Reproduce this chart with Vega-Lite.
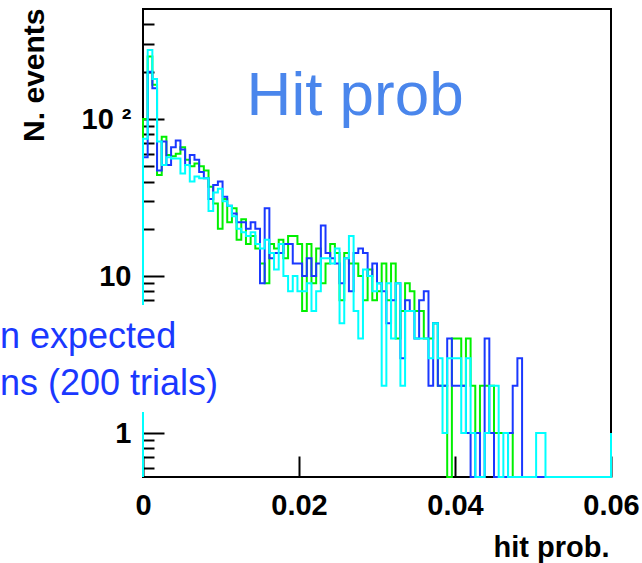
{
  "$schema": "https://vega.github.io/schema/vega-lite/v6.json",
  "autosize": {"type": "none"},
  "padding": {"left": 143, "top": 9, "right": 31, "bottom": 86},
  "width": 468,
  "height": 468,
  "background": "white",
  "config": {
    "view": {"stroke": "black", "strokeWidth": 2},
    "axis": {
      "grid": false, "domain": false, "tickColor": "black", "tickWidth": 2,
      "labelColor": "black", "labelFont": "Liberation Sans", "labelFontWeight": "bold", "labelFontSize": 29,
      "titleFont": "Liberation Sans", "titleFontWeight": "bold", "titleFontSize": 29, "titleColor": "black",
      "labelOverlap": false, "labelBound": false
    }
  },
  "datasets": {
    "h": [
      {"x":0,"G":0,"B":0,"C":0},
      {"x":0,"G":100,"B":57,"C":75},
      {"x":0.0006,"G":250,"B":200,"C":275},
      {"x":0.0012,"G":165,"B":157,"C":180},
      {"x":0.0018,"G":44,"B":47,"C":72},
      {"x":0.0024,"G":77,"B":72,"C":51},
      {"x":0.003,"G":59,"B":51,"C":57},
      {"x":0.0036,"G":58,"B":66,"C":56},
      {"x":0.0042,"G":60,"B":73,"C":56},
      {"x":0.0048,"G":66,"B":64,"C":45},
      {"x":0.0054,"G":55,"B":51,"C":51},
      {"x":0.006,"G":50,"B":59,"C":40},
      {"x":0.0066,"G":52,"B":55,"C":43},
      {"x":0.0072,"G":50,"B":46,"C":42},
      {"x":0.0078,"G":47,"B":42,"C":42},
      {"x":0.0084,"G":37,"B":31,"C":26},
      {"x":0.009,"G":29,"B":38,"C":34},
      {"x":0.0096,"G":20,"B":40,"C":36},
      {"x":0.0102,"G":31,"B":32,"C":30},
      {"x":0.0108,"G":22,"B":28,"C":28},
      {"x":0.0114,"G":27,"B":25,"C":24},
      {"x":0.012,"G":17,"B":22,"C":20},
      {"x":0.0126,"G":23,"B":22,"C":19},
      {"x":0.0132,"G":16,"B":20,"C":18},
      {"x":0.0138,"G":18,"B":22,"C":19},
      {"x":0.0144,"G":15,"B":20,"C":16},
      {"x":0.015,"G":12,"B":9,"C":15},
      {"x":0.0156,"G":9,"B":27,"C":17},
      {"x":0.0162,"G":16,"B":13,"C":14},
      {"x":0.0168,"G":15,"B":14,"C":11},
      {"x":0.0174,"G":17,"B":14,"C":16},
      {"x":0.018,"G":13,"B":16,"C":10},
      {"x":0.0186,"G":18,"B":16,"C":8},
      {"x":0.0192,"G":18,"B":12,"C":10},
      {"x":0.0198,"G":16,"B":12,"C":8},
      {"x":0.0204,"G":6,"B":10,"C":8},
      {"x":0.021,"G":16,"B":13,"C":9},
      {"x":0.0216,"G":9,"B":10,"C":6},
      {"x":0.0222,"G":15,"B":12,"C":8},
      {"x":0.0228,"G":9,"B":21,"C":13},
      {"x":0.0234,"G":12,"B":14,"C":13},
      {"x":0.024,"G":16,"B":13,"C":12},
      {"x":0.0246,"G":14,"B":12,"C":15},
      {"x":0.0252,"G":7,"B":9,"C":5},
      {"x":0.0258,"G":14,"B":13,"C":13},
      {"x":0.0264,"G":12,"B":8,"C":18},
      {"x":0.027,"G":12,"B":14,"C":6},
      {"x":0.0276,"G":10,"B":15,"C":4},
      {"x":0.0282,"G":7,"B":14,"C":11},
      {"x":0.0288,"G":11,"B":10,"C":10},
      {"x":0.0294,"G":7,"B":12,"C":8},
      {"x":0.03,"G":8,"B":9,"C":9},
      {"x":0.0306,"G":12,"B":8,"C":2},
      {"x":0.0312,"G":7,"B":5,"C":9},
      {"x":0.0318,"G":12,"B":7,"C":4},
      {"x":0.0324,"G":4,"B":9,"C":9},
      {"x":0.033,"G":6,"B":3,"C":2},
      {"x":0.0336,"G":9,"B":7,"C":6},
      {"x":0.0342,"G":8,"B":6,"C":6},
      {"x":0.0348,"G":6,"B":4,"C":4},
      {"x":0.0354,"G":6,"B":7,"C":4},
      {"x":0.036,"G":4,"B":8,"C":4},
      {"x":0.0366,"G":4,"B":2,"C":3},
      {"x":0.0372,"G":5,"B":5,"C":5},
      {"x":0.0378,"G":2,"B":2,"C":3},
      {"x":0.0384,"G":2,"B":2,"C":1},
      {"x":0.039,"G":0,"B":4,"C":3},
      {"x":0.0396,"G":4,"B":2,"C":3},
      {"x":0.0402,"G":4,"B":2,"C":3},
      {"x":0.0408,"G":2,"B":2,"C":1},
      {"x":0.0414,"G":4,"B":1,"C":3},
      {"x":0.042,"G":2,"B":0,"C":1},
      {"x":0.0426,"G":1,"B":1,"C":0},
      {"x":0.0432,"G":2,"B":0,"C":0},
      {"x":0.0438,"G":2,"B":4,"C":1},
      {"x":0.0444,"G":2,"B":1,"C":2},
      {"x":0.045,"G":1,"B":0,"C":2},
      {"x":0.0456,"G":1,"B":0,"C":0},
      {"x":0.0462,"G":1,"B":0,"C":1},
      {"x":0.0468,"G":1,"B":1,"C":0},
      {"x":0.0474,"G":0,"B":2,"C":0},
      {"x":0.048,"G":0,"B":3,"C":0},
      {"x":0.0486,"G":0,"B":0,"C":0},
      {"x":0.0492,"G":0,"B":0,"C":0},
      {"x":0.0498,"G":0,"B":0,"C":0},
      {"x":0.0504,"G":0,"B":0,"C":1},
      {"x":0.051,"G":0,"B":0,"C":1},
      {"x":0.0516,"G":0,"B":0,"C":0},
      {"x":0.0522,"G":0,"B":0,"C":0},
      {"x":0.0528,"G":0,"B":0,"C":0},
      {"x":0.0534,"G":0,"B":0,"C":0},
      {"x":0.054,"G":0,"B":0,"C":0},
      {"x":0.0546,"G":0,"B":0,"C":0},
      {"x":0.0552,"G":0,"B":0,"C":0},
      {"x":0.0558,"G":0,"B":0,"C":0},
      {"x":0.0564,"G":0,"B":0,"C":0},
      {"x":0.057,"G":0,"B":0,"C":0},
      {"x":0.0576,"G":0,"B":0,"C":0},
      {"x":0.0582,"G":0,"B":0,"C":0},
      {"x":0.0588,"G":0,"B":0,"C":0},
      {"x":0.0594,"G":0,"B":0,"C":0},
      {"x":0.06,"G":0,"B":0,"C":1},
      {"x":0.06,"G":0,"B":0,"C":0}
    ],
    "note": [{"t": "Hit prob"}],
    "leg": [{"t": "n expected", "k": 1}, {"t": "ns (200 trials)", "k": 2}]
  },
  "resolve": {"axis": {"y": "independent"}},
  "layer": [
    {
      "data": {"name": "h"},
      "transform": [{"fold": ["G", "B", "C"], "as": ["s", "n"]}],
      "mark": {"type": "line", "interpolate": "step-after", "strokeWidth": 2},
      "encoding": {
        "x": {
          "field": "x", "type": "quantitative",
          "scale": {"domain": [0, 0.06], "nice": false},
          "axis": {
            "values": [0, 0.02, 0.04, 0.06],
            "labelExpr": "datum.value == 0 ? '0' : format(datum.value, '.2f')",
            "tickSize": -21, "labelPadding": 35, "labelFlush": false,
            "title": "hit prob.", "titleAnchor": "end", "titleAlign": "right",
            "titleBaseline": "alphabetic", "titleX": 466, "titleY": 79
          }
        },
        "y": {
          "field": "n", "type": "quantitative",
          "scale": {"type": "log", "domain": [0.525, 502], "nice": false, "clamp": true},
          "axis": {
            "orient": "left",
            "values": [1, 10, 100],
            "labelExpr": "datum.value == 100 ? '10 \u00b2' : (datum.value == 10 ? '10\u00a0\u00a0' : '1')",
            "tickSize": -21, "labelPadding": 33,
            "title": "N. events", "titleAngle": 270, "titleAlign": "right",
            "titleBaseline": "alphabetic", "titleX": -100, "titleY": -1, "titleFontSize": 30
          }
        },
        "color": {
          "field": "s", "type": "nominal",
          "scale": {"domain": ["G", "B", "C"], "range": ["#00f000", "#1a38ff", "#00ffff"]},
          "legend": null
        },
        "order": {"value": null}
      }
    },
    {
      "data": {"name": "note"},
      "mark": {"type": "rect", "fill": "white", "stroke": null},
      "encoding": {
        "x": {"datum": -0.02, "type": "quantitative"},
        "x2": {"datum": 0.0095},
        "y": {
          "datum": 6.54, "type": "quantitative",
          "axis": {
            "orient": "left",
            "values": [0.6, 0.7, 0.8, 0.9, 2, 3, 4, 5, 6, 7, 8, 9, 20, 30, 40, 50, 60, 70, 80, 90, 200, 300, 400],
            "labels": false, "tickSize": -11, "title": null
          }
        },
        "y2": {"datum": 1.36}
      }
    },
    {
      "data": {"name": "note"},
      "mark": {"type": "text", "font": "Liberation Sans", "fontSize": 62, "color": "#4a86ec", "align": "center", "baseline": "alphabetic"},
      "encoding": {
        "x": {"datum": 0.0272, "type": "quantitative"},
        "y": {"datum": 106, "type": "quantitative", "axis": null},
        "text": {"field": "t"}
      }
    },
    {
      "data": {"name": "leg"},
      "transform": [{"filter": "datum.k == 1"}],
      "mark": {"type": "text", "font": "Liberation Sans", "fontSize": 36, "color": "#1a38ff", "align": "left", "baseline": "alphabetic"},
      "encoding": {
        "x": {"datum": -0.01833, "type": "quantitative"},
        "y": {"datum": 3.48, "type": "quantitative", "axis": null},
        "text": {"field": "t"}
      }
    },
    {
      "data": {"name": "leg"},
      "transform": [{"filter": "datum.k == 2"}],
      "mark": {"type": "text", "font": "Liberation Sans", "fontSize": 36, "color": "#1a38ff", "align": "left", "baseline": "alphabetic"},
      "encoding": {
        "x": {"datum": -0.01833, "type": "quantitative"},
        "y": {"datum": 1.746, "type": "quantitative", "axis": null},
        "text": {"field": "t"}
      }
    }
  ]
}
